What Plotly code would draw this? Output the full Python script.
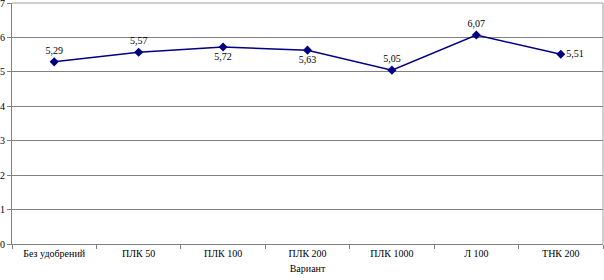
import plotly.graph_objects as go

categories = ["Без удобрений", "ПЛК 50", "ПЛК 100", "ПЛК 200", "ПЛК 1000", "Л 100", "ТНК 200"]
values = [5.29, 5.57, 5.72, 5.63, 5.05, 6.07, 5.51]
labels = ["5,29", "5,57", "5,72", "5,63", "5,05", "6,07", "5,51"]
label_pos = ["top center", "top center", "bottom center", "bottom center", "top center", "top center", "middle right"]
y_ticks = [0, 1, 2, 3, 4, 5, 6, 7]

font = "Liberation Serif"

fig = go.Figure(go.Scatter(
    x=categories, y=values, mode="lines+markers+text",
    line=dict(color="#000080", width=1.5),
    marker=dict(symbol="diamond", size=7, color="#000080"),
    text=labels, textposition=label_pos,
    textfont=dict(family=font, size=10, color="black"),
    cliponaxis=False,
))

fig.update_layout(
    width=604, height=280,
    margin=dict(l=12, r=1, t=3, b=36, autoexpand=False),
    plot_bgcolor="white", paper_bgcolor="white",
    showlegend=False,
    font=dict(family=font, size=10, color="black"),
)
fig.update_xaxes(
    type="category", range=[-0.5, 6.5], automargin=False,
    showgrid=False, showline=True, linecolor="#808080", linewidth=1,
    ticks="outside", tickson="boundaries", ticklen=4, tickcolor="#808080",
    title=dict(text="Вариант", font=dict(family=font, size=10), standoff=6),
    tickfont=dict(family=font, size=10),
)
fig.update_yaxes(
    range=[0, 7], tickvals=y_ticks, ticktext=[str(v) for v in y_ticks],
    automargin=False, ticklabeloverflow="allow",
    showgrid=True, gridcolor="#808080", gridwidth=1,
    showline=True, linecolor="#808080", linewidth=1,
    ticks="outside", ticklen=4, tickcolor="#808080",
    zeroline=False,
    tickfont=dict(family=font, size=10),
)
fig.add_shape(type="line", xref="paper", yref="paper", x0=1, x1=1, y0=0, y1=1,
              line=dict(color="#a0a0a0", width=1))
fig.add_shape(type="line", xref="paper", yref="paper", x0=0, x1=1, y0=1, y1=1,
              line=dict(color="#a0a0a0", width=1))

fig.write_html("out.html", config={"displayModeBar": False},
               post_script="document.body.style.margin='0';")
